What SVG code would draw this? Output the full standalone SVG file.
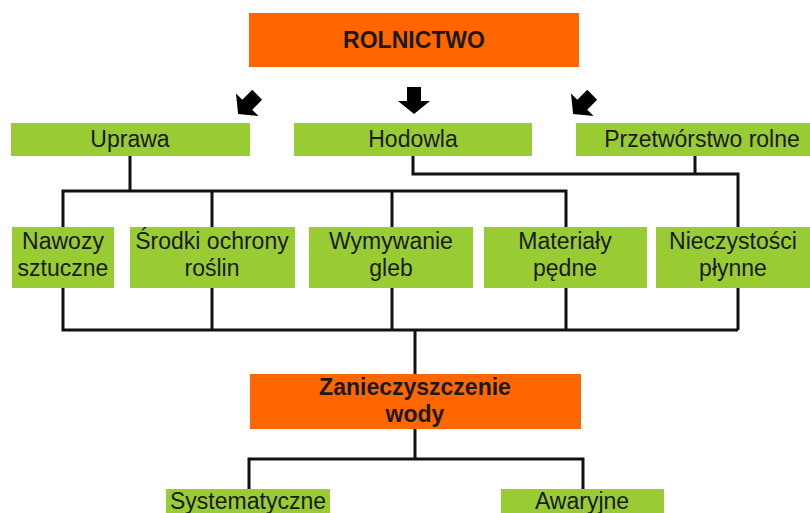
<svg xmlns="http://www.w3.org/2000/svg" width="810" height="513" viewBox="0 0 810 513">
<defs>
<style>
.or{fill:#ff6600}
.gr{fill:#99cc33}
.t{font-family:"Liberation Sans",Arial,sans-serif;font-size:23px;fill:#1a1a1a;text-anchor:middle}
.b{font-weight:bold}
.ln{fill:none;stroke:#111;stroke-width:3;stroke-linejoin:miter}
.ar{fill:#000}
</style>
<path id="arr" d="M-7,-13 L7,-13 L7,1 L16,1 L0,14 L-16,1 L-7,1 Z"/>
</defs>
<rect width="810" height="513" fill="#fff"/>
<g id="connectors">
<use href="#arr" class="ar" transform="translate(248,104) rotate(45)"/>
<use href="#arr" class="ar" transform="translate(414,100)"/>
<use href="#arr" class="ar" transform="translate(583,104) rotate(45)"/>
<path class="ln" d="M130,155 V191 M63,227 V191 H566 V227 M212,191 V227 M392,191 V227"/>
<path class="ln" d="M413,155 V174 H738 V330 M695,155 V174"/>
<path class="ln" d="M63,288 V330 H738 M212,288 V330 M392,288 V330 M566,288 V330 M415,330 V374"/>
<path class="ln" d="M415,429 V459 M249,489 V459 H583 V489"/>
</g>
<g id="rolnictwo"><rect class="or" x="249" y="13" width="330" height="54"/><text class="t b" x="414" y="48">ROLNICTWO</text></g>
<g id="uprawa"><rect class="gr" x="11" y="123" width="239" height="33"/><text class="t" x="130" y="147">Uprawa</text></g>
<g id="hodowla"><rect class="gr" x="294" y="123" width="238" height="33"/><text class="t" x="413" y="147">Hodowla</text></g>
<g id="przetworstwo"><rect class="gr" x="576" y="123" width="234" height="33"/><text class="t" x="702" y="147">Przetwórstwo rolne</text></g>
<g id="nawozy"><rect class="gr" x="12" y="227" width="102" height="61"/><text class="t" x="63" y="249">Nawozy</text><text class="t" x="63" y="276">sztuczne</text></g>
<g id="srodki"><rect class="gr" x="130" y="227" width="165" height="61"/><text class="t" x="212" y="249">Środki ochrony</text><text class="t" x="212" y="276">roślin</text></g>
<g id="wymywanie"><rect class="gr" x="309" y="227" width="164" height="61"/><text class="t" x="391" y="249">Wymywanie</text><text class="t" x="391" y="276">gleb</text></g>
<g id="materialy"><rect class="gr" x="484" y="227" width="163" height="61"/><text class="t" x="565" y="249">Materiały</text><text class="t" x="565" y="276">pędne</text></g>
<g id="nieczystosci"><rect class="gr" x="656" y="227" width="154" height="61"/><text class="t" x="733" y="249">Nieczystości</text><text class="t" x="733" y="276">płynne</text></g>
<g id="zanieczyszczenie"><rect class="or" x="250" y="374" width="331" height="55"/><text class="t b" x="415" y="395">Zanieczyszczenie</text><text class="t b" x="415" y="422">wody</text></g>
<g id="systematyczne"><rect class="gr" x="166" y="489" width="164" height="33"/><text class="t" x="248" y="509">Systematyczne</text></g>
<g id="awaryjne"><rect class="gr" x="501" y="489" width="163" height="33"/><text class="t" x="582" y="509">Awaryjne</text></g>
</svg>
